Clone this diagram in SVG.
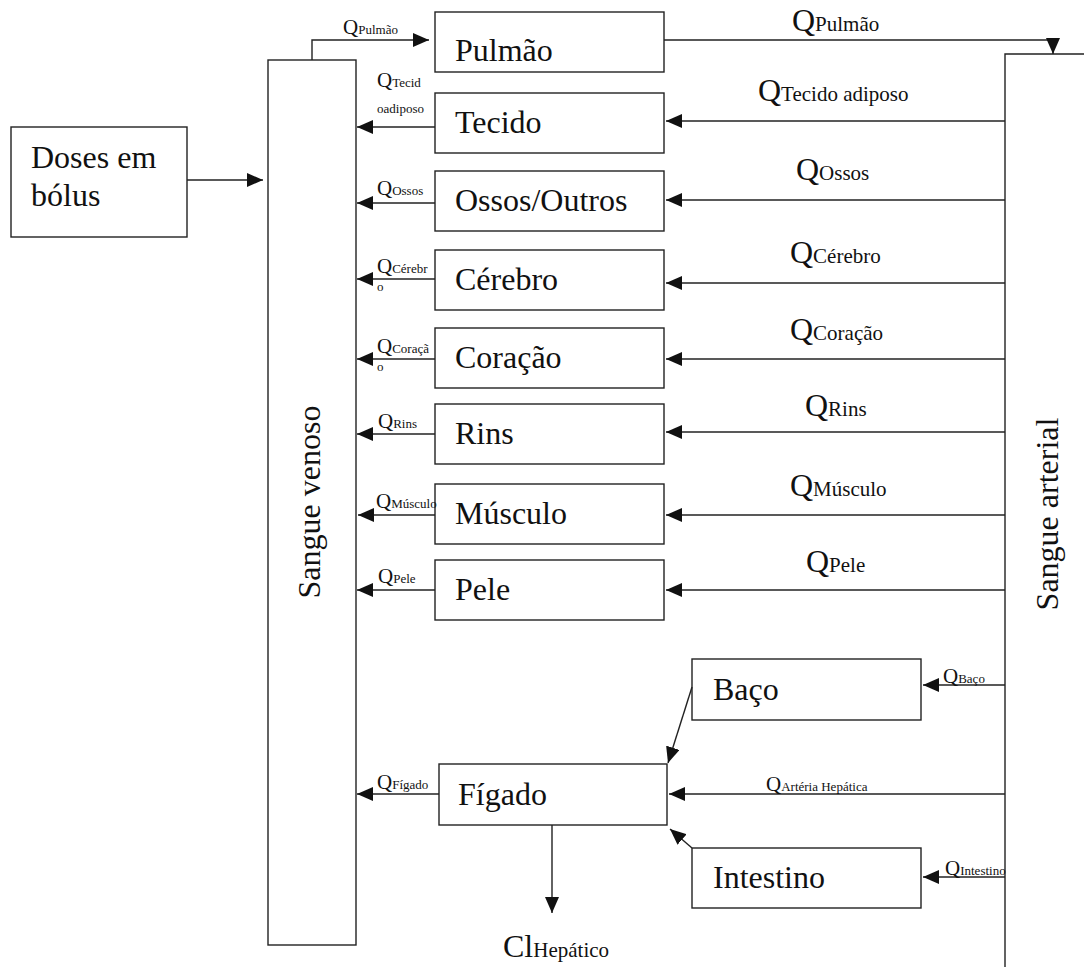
<svg xmlns="http://www.w3.org/2000/svg" width="1084" height="967" viewBox="0 0 1084 967">
<style>
.box{fill:#fff;stroke:#222;stroke-width:1.4}
.ln{fill:none;stroke:#222;stroke-width:1.4}
.t{font-family:"Liberation Serif","Times New Roman",serif;fill:#111}
.big{font-size:32px}
.rq{font-size:32px}
.rs{font-size:21px}
.lq{font-size:21px}
.ls{font-size:13px}
</style>
<defs>
<marker id="ah" markerUnits="userSpaceOnUse" markerWidth="17" markerHeight="14" refX="16" refY="7" orient="auto">
<path d="M0,0 L16,7 L0,14 z" fill="#111"/>
</marker>
</defs>
<rect width="1084" height="967" fill="#fff"/>

<g id="doses"><rect class="box" x="11" y="127" width="176" height="110"/>
<text class="t big" x="31" y="168">Doses em</text><text class="t big" x="31" y="206">bólus</text></g>

<g id="venoso"><rect class="box" x="268" y="60" width="88" height="885"/>
<text class="t big" transform="translate(320,502) rotate(-90)" text-anchor="middle">Sangue venoso</text></g>

<g id="arterial"><path class="box" d="M1090,54 L1005,54 L1005,975"/>
<text class="t big" transform="translate(1058,514) rotate(-90)" text-anchor="middle">Sangue arterial</text></g>

<g id="pulmao"><rect class="box" x="435" y="12" width="229" height="60"/><text class="t big" x="455" y="61">Pulmão</text></g>
<g id="tecido"><rect class="box" x="435" y="93" width="229" height="60"/><text class="t big" x="455" y="133">Tecido</text></g>
<g id="ossos"><rect class="box" x="435" y="171" width="229" height="60"/><text class="t big" x="455" y="211">Ossos/Outros</text></g>
<g id="cerebro"><rect class="box" x="435" y="250" width="229" height="60"/><text class="t big" x="455" y="290">Cérebro</text></g>
<g id="coracao"><rect class="box" x="435" y="328" width="229" height="60"/><text class="t big" x="455" y="368">Coração</text></g>
<g id="rins"><rect class="box" x="435" y="404" width="229" height="60"/><text class="t big" x="455" y="444">Rins</text></g>
<g id="musculo"><rect class="box" x="435" y="484" width="229" height="60"/><text class="t big" x="455" y="524">Músculo</text></g>
<g id="pele"><rect class="box" x="435" y="560" width="229" height="60"/><text class="t big" x="455" y="600">Pele</text></g>
<g id="baco"><rect class="box" x="692" y="659" width="229" height="61"/><text class="t big" x="713" y="700">Baço</text></g>
<g id="figado"><rect class="box" x="439" y="764" width="228" height="61"/><text class="t big" x="458" y="805">Fígado</text></g>
<g id="intestino"><rect class="box" x="692" y="848" width="229" height="60"/><text class="t big" x="713" y="888">Intestino</text></g>

<g id="connectors">
<path class="ln" d="M187,180 L263,180" marker-end="url(#ah)"/>
<path class="ln" d="M312,60 L312,40 L429,40" marker-end="url(#ah)"/>
<path class="ln" d="M664,40 L1053,40 L1053,54" marker-end="url(#ah)"/>
<path class="ln" d="M1005,121 L666,121" marker-end="url(#ah)"/>
<path class="ln" d="M1005,200 L666,200" marker-end="url(#ah)"/>
<path class="ln" d="M1005,283 L666,283" marker-end="url(#ah)"/>
<path class="ln" d="M1005,359 L666,359" marker-end="url(#ah)"/>
<path class="ln" d="M1005,432 L666,432" marker-end="url(#ah)"/>
<path class="ln" d="M1005,515 L666,515" marker-end="url(#ah)"/>
<path class="ln" d="M1005,590 L666,590" marker-end="url(#ah)"/>
<path class="ln" d="M1005,685 L923,685" marker-end="url(#ah)"/>
<path class="ln" d="M1005,794 L669,794" marker-end="url(#ah)"/>
<path class="ln" d="M1005,877 L923,877" marker-end="url(#ah)"/>
<path class="ln" d="M692,687 L668,763" marker-end="url(#ah)"/>
<path class="ln" d="M692,848 L670,829" marker-end="url(#ah)"/>
<path class="ln" d="M552,825 L552,913" marker-end="url(#ah)"/>
<path class="ln" d="M435,127 L357,127" marker-end="url(#ah)"/>
<path class="ln" d="M435,203 L357,203" marker-end="url(#ah)"/>
<path class="ln" d="M435,279 L357,279" marker-end="url(#ah)"/>
<path class="ln" d="M435,359 L357,359" marker-end="url(#ah)"/>
<path class="ln" d="M435,434 L357,434" marker-end="url(#ah)"/>
<path class="ln" d="M435,515 L358,515" marker-end="url(#ah)"/>
<path class="ln" d="M435,590 L357,590" marker-end="url(#ah)"/>
<path class="ln" d="M439,794 L357,794" marker-end="url(#ah)"/>

<text class="t rq" x="792" y="31">Q<tspan class="rs">Pulmão</tspan></text>
<text class="t rq" x="758" y="101">Q<tspan class="rs">Tecido adiposo</tspan></text>
<text class="t rq" x="796" y="180">Q<tspan class="rs">Ossos</tspan></text>
<text class="t rq" x="790" y="263">Q<tspan class="rs">Cérebro</tspan></text>
<text class="t rq" x="790" y="340">Q<tspan class="rs">Coração</tspan></text>
<text class="t rq" x="805" y="416">Q<tspan class="rs">Rins</tspan></text>
<text class="t rq" x="790" y="496">Q<tspan class="rs">Músculo</tspan></text>
<text class="t rq" x="806" y="572">Q<tspan class="rs">Pele</tspan></text>
<text class="t lq" x="943" y="683">Q<tspan class="ls">Baço</tspan></text>
<text class="t lq" x="766" y="791">Q<tspan class="ls">Artéria Hepática</tspan></text>
<text class="t lq" x="945" y="875">Q<tspan class="ls">Intestino</tspan></text>
<text class="t" style="font-size:32px" x="503" y="957">Cl<tspan style="font-size:21px">Hepático</tspan></text>

<text class="t lq" x="343" y="34">Q<tspan class="ls">Pulmão</tspan></text>
<text class="t lq" x="377" y="87">Q<tspan class="ls">Tecid</tspan></text>
<text class="t ls" x="377" y="113">oadiposo</text>
<text class="t lq" x="377" y="195">Q<tspan class="ls">Ossos</tspan></text>
<text class="t lq" x="377" y="273">Q<tspan class="ls">Cérebr</tspan></text>
<text class="t ls" x="377" y="291">o</text>
<text class="t lq" x="377" y="353">Q<tspan class="ls">Coraçã</tspan></text>
<text class="t ls" x="377" y="371">o</text>
<text class="t lq" x="378" y="428">Q<tspan class="ls">Rins</tspan></text>
<text class="t lq" x="376" y="508">Q<tspan class="ls">Músculo</tspan></text>
<text class="t lq" x="378" y="583">Q<tspan class="ls">Pele</tspan></text>
<text class="t lq" x="377" y="789">Q<tspan class="ls">Fígado</tspan></text>
</g>
</svg>
